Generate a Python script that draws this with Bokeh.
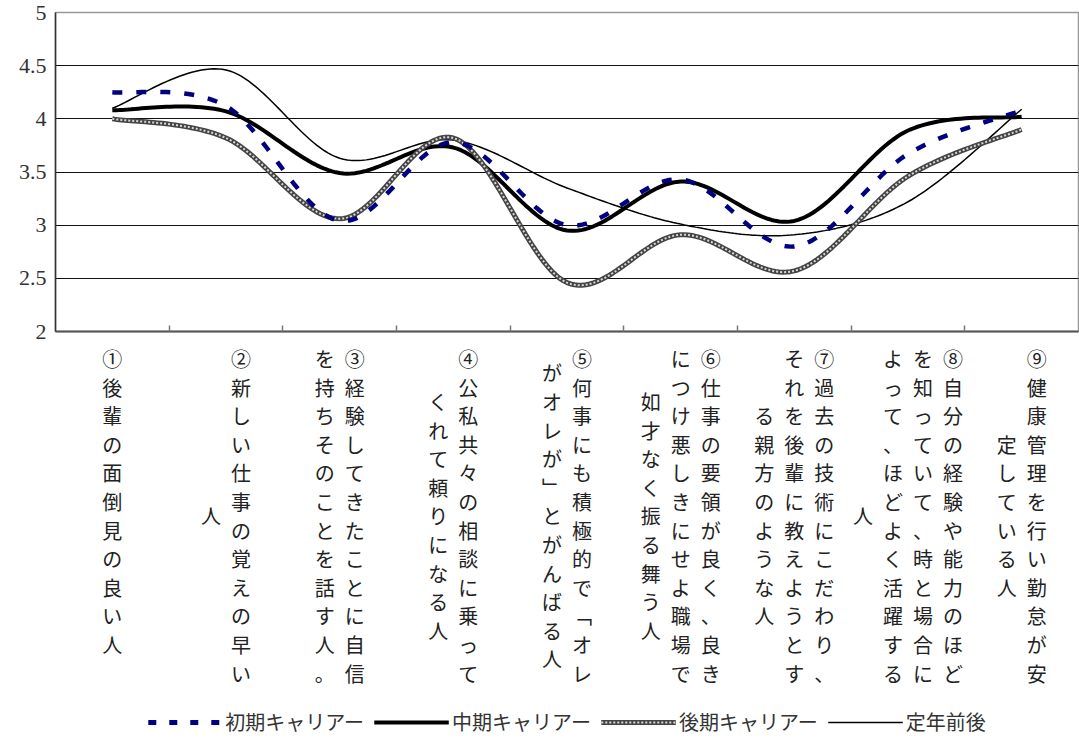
import numpy as np
from bokeh.plotting import figure
from bokeh.models import Range1d, FixedTicker, Legend, LegendItem, ColumnDataSource
from bokeh.layouts import column
from bokeh.core.properties import value
from bokeh.embed import file_html
from bokeh.resources import INLINE

# ---------------- data ----------------
categories = [
    "①後輩の面倒見の良い人",
    "②新しい仕事の覚えの早い人",
    "③経験してきたことに自信を持ちそのことを話す人。",
    "④公私共々の相談に乗ってくれて頼りになる人",
    "⑤何事にも積極的で「オレがオレが」とがんばる人",
    "⑥仕事の要領が良く、良きにつけ悪しきにせよ職場で如才なく振る舞う人",
    "⑦過去の技術にこだわり、それを後輩に教えようとする親方のような人",
    "⑧自分の経験や能力のほどを知っていて、時と場合によって、ほどよく活躍する人",
    "⑨健康管理を行い勤怠が安定している人",
]
x_pos = [1, 2, 3, 4, 5, 6, 7, 8, 9]
early = [4.25, 4.12, 3.04, 3.78, 3.00, 3.43, 2.80, 3.67, 4.08]
mid = [4.08, 4.07, 3.49, 3.73, 2.95, 3.41, 3.04, 3.89, 4.02]
late = [4.00, 3.82, 3.06, 3.82, 2.46, 2.91, 2.57, 3.46, 3.90]
retire = [4.10, 4.46, 3.63, 3.80, 3.35, 3.01, 2.91, 3.22, 4.09]
series_names = ["初期キャリアー", "中期キャリアー", "後期キャリアー", "定年前後"]
y_ticks = [2, 2.5, 3, 3.5, 4, 4.5, 5]
y_tick_labels = ["2", "2.5", "3", "3.5", "4", "4.5", "5"]


def smooth(xs, ys, n=30):
    """Excel-like smoothed line (Bezier through the points)."""
    P = np.column_stack([np.asarray(xs, float), np.asarray(ys, float)])
    E = np.vstack([P[0], P, P[-1]])
    segs = []
    for i in range(len(P) - 1):
        p0, p1, p2, p3 = E[i], E[i + 1], E[i + 2], E[i + 3]
        c1 = p1 + (p2 - p0) / 6.0
        c2 = p2 - (p3 - p1) / 6.0
        t = np.linspace(0, 1, n, endpoint=(i == len(P) - 2))[:, None]
        b = (1 - t) ** 3 * p1 + 3 * (1 - t) ** 2 * t * c1 + 3 * (1 - t) * t ** 2 * c2 + t ** 3 * p2
        segs.append(b)
    B = np.vstack(segs)
    return B[:, 0], B[:, 1]


# ---------------- main chart ----------------
H1_BOTTOM = 13
p = figure(frame_width=1023, frame_height=319,
           x_range=Range1d(0.5, len(categories) + 0.5), y_range=Range1d(2, 5),
           output_backend="svg", toolbar_location=None,
           min_border_left=55, min_border_right=1, min_border_top=12, min_border_bottom=H1_BOTTOM,
           background_fill_color="white", border_fill_color="white",
           outline_line_color="#999999", outline_line_width=1.5)

x_bounds = [i + 0.5 for i in range(1, len(categories))]
p.xaxis.ticker = FixedTicker(ticks=x_bounds, minor_ticks=[])
p.xaxis.major_label_overrides = {t: "" for t in x_bounds}
p.xaxis.major_label_text_font_size = "1px"
p.xaxis.major_label_standoff = 0
p.xaxis.major_tick_in = 6
p.xaxis.major_tick_out = 0
p.xaxis.major_tick_line_color = "#777777"
p.xaxis.major_tick_line_width = 1.5
p.xaxis.axis_line_color = "#555555"
p.xaxis.axis_line_width = 2

p.yaxis.ticker = FixedTicker(ticks=y_ticks, minor_ticks=[])
p.yaxis.major_label_overrides = dict(zip(y_ticks, y_tick_labels))
p.yaxis.major_tick_in = 0
p.yaxis.major_tick_out = 0
p.yaxis.major_label_standoff = 9
p.yaxis.major_label_text_font = "Liberation Serif"
p.yaxis.major_label_text_font_size = "22px"
p.yaxis.major_label_text_color = "#333333"
p.yaxis.axis_line_color = "#333333"
p.yaxis.axis_line_width = 1.5

p.xgrid.visible = False
p.ygrid.ticker = FixedTicker(ticks=y_ticks)
p.ygrid.grid_line_color = "#111111"
p.ygrid.grid_line_width = 1

xs, ys = smooth(x_pos, retire)
p.line(xs, ys, line_color="black", line_width=1.5)
xs, ys = smooth(x_pos, mid)
p.line(xs, ys, line_color="black", line_width=4)
xs, ys = smooth(x_pos, late)
p.line(xs, ys, line_color="#444444", line_width=5)
p.line(xs, ys, line_color="#d8d8d8", line_width=2, line_dash="2 2")
xs, ys = smooth(x_pos, early)
p.line(xs, ys, line_color="#000080", line_width=4.5, line_dash="10 14")

# ---------------- category labels (vertical text) + legend ----------------
H1 = 12 + 319 + H1_BOTTOM
H2 = 740 - H1
p2 = figure(frame_width=1023, frame_height=H2, x_range=p.x_range, y_range=Range1d(0, H2),
            output_backend="svg", toolbar_location=None,
            min_border_left=55, min_border_right=1, min_border_top=0, min_border_bottom=0,
            outline_line_color=None, x_axis_location=None, y_axis_location=None,
            background_fill_color="white", border_fill_color="white")
p2.grid.visible = False

vert = {"「": "﹁", "」": "﹂"}
COL_LEN = 12
ROW_PITCH = 28.6
COL_PITCH = 30
TOP = 358 - H1
cx, cy, cdx, ct = [], [], [], []
for i, lab in enumerate(categories):
    cols = [lab[k:k + COL_LEN] for k in range(0, len(lab), COL_LEN)]
    m = max(len(c) for c in cols)
    nc = len(cols)
    for j, col in enumerate(cols):
        start = (m - len(col)) / 2.0
        for r, ch in enumerate(col):
            cx.append(x_pos[i])
            cdx.append(((nc - 1) / 2.0 - j) * COL_PITCH)
            cy.append(H2 - (TOP + (start + r) * ROW_PITCH))
            ct.append(vert.get(ch, ch))
src = ColumnDataSource(dict(x=cx, y=cy, dx=cdx, t=ct))
p2.text(x="x", y="y", text="t", x_offset="dx", source=src,
        text_font=value("Noto Sans CJK JP"), text_font_size="20px",
        text_align="center", text_baseline="middle", text_color="#222222")

# legend (off-screen renderers carrying the series styles)
off_x, off_y = [0, 1], [-500, -500]
d_early = p2.line(x=off_x, y=off_y, line_color="#000080", line_width=5, line_dash="8 13")
d_mid = p2.line(x=off_x, y=off_y, line_color="black", line_width=4)
d_late1 = p2.line(x=off_x, y=off_y, line_color="#444444", line_width=5)
d_late2 = p2.line(x=off_x, y=off_y, line_color="#d8d8d8", line_width=2, line_dash="2 2")
d_ret = p2.line(x=off_x, y=off_y, line_color="black", line_width=1.5)
legend = Legend(items=[
    LegendItem(label=series_names[0], renderers=[d_early]),
    LegendItem(label=series_names[1], renderers=[d_mid]),
    LegendItem(label=series_names[2], renderers=[d_late1, d_late2]),
    LegendItem(label=series_names[3], renderers=[d_ret]),
], orientation="horizontal", location="bottom_center",
    glyph_width=75, glyph_height=20, label_standoff=3, spacing=10,
    padding=0, margin=4, border_line_color=None, background_fill_alpha=0,
    label_text_font="Noto Sans CJK JP", label_text_font_size="20px",
    label_text_color="#333333")
p2.add_layout(legend)

layout = column(p, p2, spacing=0)
with open("out.html", "w") as f:
    f.write(file_html(layout, INLINE, title="chart"))
